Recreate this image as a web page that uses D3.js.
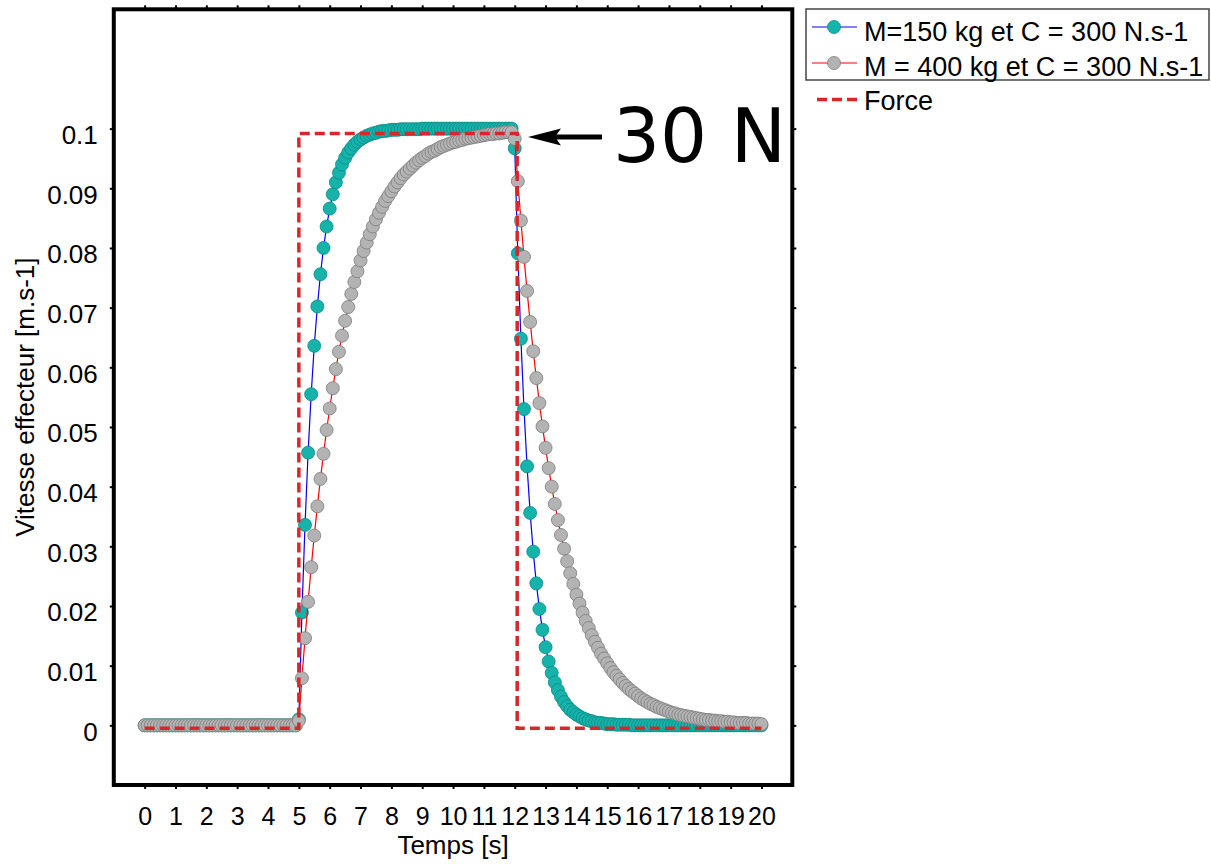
<!DOCTYPE html>
<html><head><meta charset="utf-8">
<script src="https://cdn.jsdelivr.net/npm/d3@7"></script>
<style>body{margin:0;background:#fff;} svg{display:block;}</style>
</head><body>
<svg id="chart" width="1211" height="864"></svg>
<script>
// sampling step of the simulation (s); sample i is at time i * tStep
const tStep = 0.1;

// M = 150 kg, C = 300 N.s-1 (t = 0 .. 20 s)
const vitesseM150 = [
0,0,0,0,0,0,0,0,0,0, 0,0,0,0,0,0,0,0,0,0, 0,0,0,0,0,0,0,0,0,0, 0,0,0,0,0,0,0,0,0,0, 0,0,0,0,0,0,0,0,0,0,
0.0010,0.0189,0.0336,0.0457,0.0555,0.0636,0.0702,0.0756,0.0800,0.0836,
0.0866,0.0890,0.0910,0.0926,0.0940,0.0951,0.0960,0.0967,0.0973,0.0978,
0.0982,0.0985,0.0988,0.0990,0.0992,0.0993,0.0995,0.0996,0.0996,0.0997,
0.0998,0.0998,0.0998,0.0999,0.0999,0.0999,0.0999,0.0999,0.0999,0.0999,
0.1000,0.1000,0.1000,0.1000,0.1000,0.1000,0.1000,0.1000,0.1000,0.1000,
0.1000,0.1000,0.1000,0.1000,0.1000,0.1000,0.1000,0.1000,0.1000,0.1000,
0.1000,0.1000,0.1000,0.1000,0.1000,0.1000,0.1000,0.1000,0.1000,0.1000,
0.0967,0.0791,0.0648,0.0530,0.0434,0.0356,0.0291,0.0238,0.0195,0.0160,
0.0131,0.0107,0.0088,0.0072,0.0059,0.0048,0.0039,0.0032,0.0026,0.0022,
0.0018,0.0015,0.0012,0.0010,0.0008,0.0007,0.0005,0.0004,0.0004,0.0003,
0.0002,0.0002,0.0002,0.0001,0.0001,0.0001,0.0001,0.0001,0,0,
0,0,0,0,0,0,0,0,0,0, 0,0,0,0,0,0,0,0,0,0, 0,0,0,0,0,0,0,0,0,0, 0,0,0,0,0,0,0,0,0,0, 0
];

// M = 400 kg, C = 300 N.s-1 (t = 0 .. 20 s)
const vitesseM400 = [
0,0,0,0,0,0,0,0,0,0, 0,0,0,0,0,0,0,0,0,0, 0,0,0,0,0,0,0,0,0,0, 0,0,0,0,0,0,0,0,0,0, 0,0,0,0,0,0,0,0,0,0,
0.0008,0.0079,0.0146,0.0207,0.0265,0.0318,0.0367,0.0413,0.0455,0.0495,
0.0531,0.0565,0.0597,0.0626,0.0653,0.0678,0.0701,0.0723,0.0743,0.0761,
0.0779,0.0795,0.0809,0.0823,0.0836,0.0848,0.0859,0.0869,0.0879,0.0887,
0.0895,0.0903,0.0910,0.0917,0.0923,0.0928,0.0933,0.0938,0.0943,0.0947,
0.0951,0.0954,0.0958,0.0961,0.0963,0.0966,0.0969,0.0971,0.0973,0.0975,
0.0977,0.0978,0.0980,0.0981,0.0983,0.0984,0.0985,0.0986,0.0987,0.0988,
0.0989,0.0990,0.0991,0.0991,0.0992,0.0992,0.0993,0.0994,0.0994,0.0994,
0.0983,0.0912,0.0846,0.0785,0.0728,0.0676,0.0627,0.0582,0.0540,0.0501,
0.0465,0.0431,0.0400,0.0371,0.0344,0.0319,0.0296,0.0275,0.0255,0.0237,
0.0219,0.0204,0.0189,0.0175,0.0163,0.0151,0.0140,0.0130,0.0120,0.0112,
0.0104,0.0096,0.0089,0.0083,0.0077,0.0071,0.0066,0.0061,0.0057,0.0053,
0.0049,0.0045,0.0042,0.0039,0.0036,0.0034,0.0031,0.0029,0.0027,0.0025,
0.0023,0.0021,0.0020,0.0018,0.0017,0.0016,0.0015,0.0014,0.0013,0.0012,
0.0011,0.0010,0.0009,0.0009,0.0008,0.0008,0.0007,0.0007,0.0006,0.0006,
0.0005,0.0005,0.0004,0.0004,0.0004,0.0004,0.0003,0.0003,0.0003,0.0003,
0.0002
];

// Force (scaled on the velocity axis)
const forceTemps  = [0, 5, 5, 12.08, 12.08, 20];
const forceNiveau = [-0.0005, -0.0005, 0.0992, 0.0992, -0.0005, -0.0005];

const xTicks = [0,1,2,3,4,5,6,7,8,9,10,11,12,13,14,15,16,17,18,19,20];
const yTicks = [0,0.01,0.02,0.03,0.04,0.05,0.06,0.07,0.08,0.09,0.1];
const yTickLabels = ["0","0.01","0.02","0.03","0.04","0.05","0.06","0.07","0.08","0.09","0.1"];
const legendLabels = ["M=150 kg et C = 300 N.s-1", "M = 400 kg et C = 300 N.s-1", "Force"];
const xTitle = "Temps [s]";
const yTitle = "Vitesse effecteur [m.s-1]";
const annotation = "30 N";

const FONT = "'Liberation Sans', Arial, Helvetica, sans-serif";
const svg = d3.select('#chart');
const L = 113.8, R = 792.3, T = 9.3, B = 785;
const x = d3.scaleLinear().domain([-1, 21]).range([L, R]);
const y = d3.scaleLinear().domain([-0.01, 0.12]).range([B, T]);

// axes (ticks on all four sides, outward)
function styleAxis(g){ g.select('.domain').remove(); g.selectAll('.tick line').attr('stroke','#000').attr('stroke-width',2); }
const gB = svg.append('g').attr('transform',`translate(0,${B})`)
  .call(d3.axisBottom(x).tickValues(xTicks).tickSize(4).tickFormat(d => String(d)));
styleAxis(gB);
gB.selectAll('.tick text').attr('y', 40).attr('dy', 0).attr('font-size', 25).attr('font-family', FONT).attr('fill','#000');
const gT = svg.append('g').attr('transform',`translate(0,${T})`)
  .call(d3.axisTop(x).tickValues(xTicks).tickSize(4).tickFormat(''));
styleAxis(gT);
const gL = svg.append('g').attr('transform',`translate(${L},0)`)
  .call(d3.axisLeft(y).tickValues(yTicks).tickSize(4).tickFormat((d,i) => yTickLabels[i]));
styleAxis(gL);
gL.selectAll('.tick text').attr('x', -16).attr('y', 15).attr('dy', 0).attr('font-size', 26).attr('font-family', FONT).attr('fill','#000');
const gR = svg.append('g').attr('transform',`translate(${R},0)`)
  .call(d3.axisRight(y).tickValues(yTicks).tickSize(4).tickFormat(''));
styleAxis(gR);

// axis titles
svg.append('text').attr('x', 453).attr('y', 854).attr('text-anchor','middle')
  .attr('font-size', 26).attr('font-family', FONT).text(xTitle);
svg.append('text').attr('transform', `translate(34,${(T+B)/2}) rotate(-90)`).attr('text-anchor','middle')
  .attr('font-size', 26).attr('font-family', FONT).text(yTitle);

const plot = svg.append('g');
const pts150 = vitesseM150.map((v,i) => [i*tStep, v]);
const pts400 = vitesseM400.map((v,i) => [i*tStep, v]);
const line = d3.line().x(d => x(d[0])).y(d => y(d[1]));

const TEAL = '#16b3ab', TEAL_S = '#0a8c85', GRAY = '#b3b3b3', GRAY_S = '#7c7c7c';

plot.append('path').datum(pts150).attr('d', line).attr('fill','none').attr('stroke','#0000ff').attr('stroke-width',1.2);
plot.append('g').selectAll('circle').data(pts150).join('circle')
  .attr('cx', d => x(d[0])).attr('cy', d => y(d[1])).attr('r', 6.5)
  .attr('fill', TEAL).attr('stroke', TEAL_S).attr('stroke-width', 0.8);

plot.append('path').datum(pts400).attr('d', line).attr('fill','none').attr('stroke','#ff0000').attr('stroke-width',1.2);
plot.append('g').selectAll('circle').data(pts400).join('circle')
  .attr('cx', d => x(d[0])).attr('cy', d => y(d[1])).attr('r', 6.5)
  .attr('fill', GRAY).attr('stroke', GRAY_S).attr('stroke-width', 0.8);

const forcePts = forceTemps.map((t,i) => [t, forceNiveau[i]]);
plot.append('path').datum(forcePts).attr('d', line).attr('fill','none')
  .attr('stroke','#d9262b').attr('stroke-width',3.5).attr('stroke-dasharray','10,5');

// frame
svg.append('rect').attr('x', L).attr('y', T).attr('width', R-L).attr('height', B-T)
  .attr('fill','none').attr('stroke','#000').attr('stroke-width',4);

// annotation arrow + text
svg.append('line').attr('x1', 602).attr('y1', 137).attr('x2', 552).attr('y2', 137)
  .attr('stroke','#000').attr('stroke-width',5);
svg.append('path').attr('d','M528,137 L561,128.5 L555,137 L561,145.5 Z').attr('fill','#000');
svg.append('text').attr('x', 613).attr('y', 162).attr('font-size', 74)
  .attr('font-family', "'DejaVu Sans', sans-serif").attr('fill','#000').text(annotation);

// legend
const lg = svg.append('g');
lg.append('rect').attr('x', 806).attr('y', 9).attr('width', 403).attr('height', 71)
  .attr('fill','#fff').attr('stroke','#444').attr('stroke-width',1.5);
const rows = [
  {y: 27, base: 41, stroke:'#0000ff', fill: TEAL, ms: TEAL_S},
  {y: 63, base: 76, stroke:'#ff0000', fill: GRAY, ms: GRAY_S}
];
rows.forEach((r,i) => {
  lg.append('line').attr('x1', 812).attr('x2', 857).attr('y1', r.y).attr('y2', r.y).attr('stroke', r.stroke).attr('stroke-width',1.2);
  lg.append('circle').attr('cx', 834).attr('cy', r.y).attr('r', 6.5).attr('fill', r.fill).attr('stroke', r.ms).attr('stroke-width',0.8);
  lg.append('text').attr('x', 864).attr('y', r.base).attr('font-size', 27).attr('font-family', FONT).text(legendLabels[i]);
});
lg.append('line').attr('x1', 817).attr('x2', 862).attr('y1', 99.5).attr('y2', 99.5)
  .attr('stroke','#d9262b').attr('stroke-width',3.5).attr('stroke-dasharray','10,5');
lg.append('text').attr('x', 864).attr('y', 110).attr('font-size', 27).attr('font-family', FONT).text(legendLabels[2]);
</script>
</body></html>
